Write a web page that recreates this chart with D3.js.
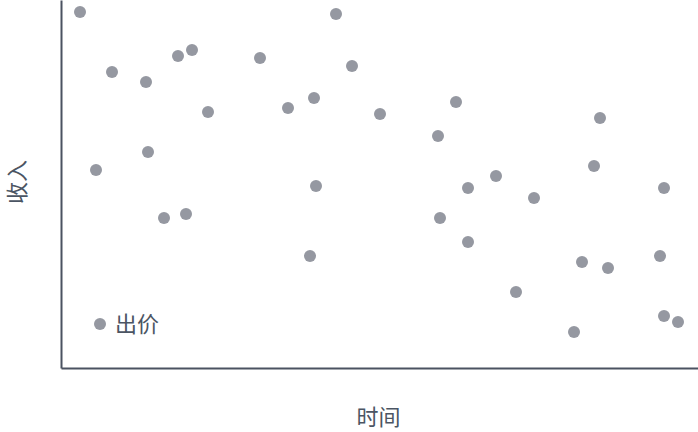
<!DOCTYPE html>
<html>
<head>
<meta charset="utf-8">
<script src="https://cdn.jsdelivr.net/npm/d3@7"></script>
<style>
    html, body { margin: 0; padding: 0; background: #fff; }
    svg { display: block; }
</style>
</head>
<body>
<div id="chart"></div>
<script>
// Series "出价": time (x) and income (y)
const seriesName = '出价';
const timeValues = [
    2.0, 5.2, 8.6, 11.8, 13.2, 14.8, 3.6, 8.8, 10.4, 12.6,
    20.0, 22.8, 25.4, 27.6, 29.2, 32.0, 25.6, 25.0, 37.8, 39.6,
    40.8, 43.6, 38.0, 40.8, 47.4, 45.6, 51.4, 52.2, 53.4, 54.0,
    54.8, 60.4, 60.0, 60.4, 61.8
];
const incomeValues = [
    35.6, 29.6, 28.6, 31.2, 31.8, 25.6, 19.8, 21.6, 15.0, 15.4,
    31.0, 26.0, 27.0, 35.4, 30.2, 25.4, 18.2, 11.2, 23.2, 26.6,
    18.0, 19.2, 15.0, 12.6, 17.0, 7.6, 3.6, 10.6, 20.2, 25.0,
    10.0, 18.0, 11.2, 5.2, 4.6
];
const xTitle = '时间';
const yTitle = '收入';

const width = 698, height = 432;
const margin = { top: 0, right: -2, bottom: 64, left: 61 };
const axisColor = '#4b5261';
const textColor = '#4b5563';
const dotColor = '#9598a1';
const font = '"Noto Sans CJK SC", "Noto Sans", sans-serif';

const data = timeValues.map((t, i) => ({ t: t, v: incomeValues[i] }));

let svg = d3.select('#chart').append('svg')
    .attr('width', width)
    .attr('height', height);

let plotW = width - margin.left - margin.right;
let plotH = height - margin.top - margin.bottom;

let xScale = d3.scaleLinear().domain([0.1, 64.0]).range([0, plotW]);
let yScale = d3.scaleLinear().domain([0, 36.8]).range([plotH, 0]);

let chart_area = svg.append('g')
    .attr('transform', `translate(${margin.left},${margin.top})`);

// Points
chart_area.selectAll('circle.dot')
    .data(data)
    .enter()
    .append('circle')
    .attr('class', 'dot')
    .attr('cx', d => xScale(d.t))
    .attr('cy', d => yScale(d.v))
    .attr('r', 6)
    .attr('fill', dotColor);

// Axes without ticks, just the lines
let xAxis = chart_area.append('g')
    .attr('transform', `translate(0,${plotH})`)
    .call(d3.axisBottom(xScale).ticks(0).tickSize(0).tickSizeOuter(0));
let yAxis = chart_area.append('g')
    .call(d3.axisLeft(yScale).ticks(0).tickSize(0).tickSizeOuter(0));
[xAxis, yAxis].forEach(a => {
    a.select('.domain').attr('stroke', axisColor).attr('stroke-width', 2);
    a.selectAll('text').remove();
});

// Axis titles
svg.append('text')
    .attr('x', margin.left + plotW / 2 - 2)
    .attr('y', 415)
    .attr('text-anchor', 'middle')
    .attr('dominant-baseline', 'central')
    .attr('font-family', font)
    .attr('font-size', 22)
    .attr('fill', textColor)
    .text(xTitle);

svg.append('text')
    .attr('transform', `translate(15,${margin.top + plotH / 2 - 2}) rotate(-90)`)
    .attr('text-anchor', 'middle')
    .attr('dominant-baseline', 'central')
    .attr('font-family', font)
    .attr('font-size', 22)
    .attr('fill', textColor)
    .text(yTitle);

// Legend
let legend = svg.append('g').attr('transform', 'translate(100,324)');
legend.append('circle')
    .attr('r', 6)
    .attr('fill', dotColor);
legend.append('text')
    .attr('x', 15)
    .attr('y', -2)
    .attr('dominant-baseline', 'central')
    .attr('font-family', font)
    .attr('font-size', 22)
    .attr('fill', textColor)
    .text(seriesName);
</script>
</body>
</html>
